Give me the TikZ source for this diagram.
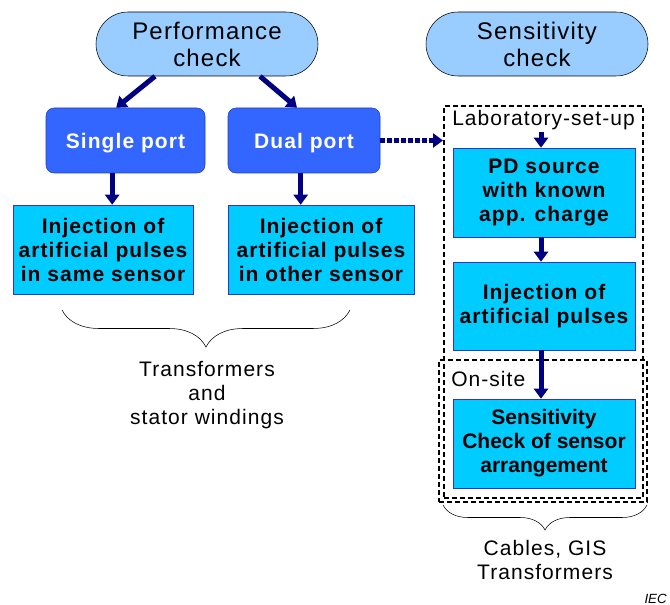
\documentclass[tikz,border=0pt]{standalone}
\usepackage{fontspec}
\setmainfont{Liberation Sans}[LetterSpace=5]
\newfontfamily\plainsans{Liberation Sans}
\usetikzlibrary{arrows.meta,positioning,decorations.pathreplacing}
\definecolor{checkblue}{HTML}{99CCFF}
\definecolor{portblue}{HTML}{3366FF}
\definecolor{portedge}{HTML}{1F3FBF}
\definecolor{injcyan}{HTML}{00CCFF}
\definecolor{injedge}{HTML}{3333CC}
\definecolor{arrnavy}{HTML}{000080}
\tikzset{
  checkbox/.style={draw=black, fill=checkblue, rounded corners=24pt,
    minimum width=166.5pt, minimum height=48pt, align=center, inner sep=0pt,
    font=\fontsize{18}{20.25}\selectfont},
  portbox/.style={draw=portedge, fill=portblue, rounded corners=6pt,
    minimum height=48.75pt, text=white, inner sep=0pt, text depth=0pt,
    font=\fontsize{15.75}{18}\selectfont\bfseries},
  stepbox/.style={draw=injedge, fill=injcyan, minimum height=66.75pt,
    align=center, inner sep=0pt, font=\fontsize{15.75}{18}\selectfont\bfseries},
  setbox/.style={draw=black, dash pattern=on 3.75pt off 2.25pt,
    line width=1.5pt, inner sep=0pt},
  tag/.style={inner sep=0pt, align=center, font=\fontsize{15.75}{18}\selectfont},
  arrw/.style={draw=arrnavy, line width=3.75pt,
    -{Triangle[width=10.5pt,length=7.5pt]}, fill=arrnavy},
  darrw/.style={arrw, dash pattern=on 3.75pt off 1.5pt},
  brc/.style={decorate, decoration={brace, mirror, amplitude=#1}, thin},
}
\begin{document}
\begin{tikzpicture}[x=0.75pt, y=-0.75pt]
  \useasboundingbox (0,0) rectangle (670,605);

  % top level checks
  \node[checkbox] (perf) at (207,44) {Performance\\check};
  \node[checkbox] (sens) at (537,44) {Sensitivity\\check};

  % performance check branch
  \node[portbox, minimum width=119.25pt] (single) at (125.5,140.5) {Single port};
  \node[portbox, minimum width=114pt] (dual) at (304,140.5) {Dual port};
  \node[stepbox, minimum width=135pt] (injsame) at (103,249.5)
    {Injection of\\artificial pulses\\in same sensor};
  \node[stepbox, minimum width=139.5pt] (injother) at (321,249.5)
    {Injection of\\artificial pulses\\in other sensor};

  % sensitivity check branch
  \node[setbox, minimum width=149.25pt, minimum height=294pt] (labbox) at (543.5,302) {};
  \node[setbox, minimum width=156pt, minimum height=106.5pt] (sitebox) at (543,431) {};
  \node[tag, anchor=base west] (labtag) at (452,126) {Laboratory-set-up};
  \node[tag, anchor=base west] (sitetag) at (451,387) {On-site};
  \node[stepbox, minimum width=136.5pt] (pdsrc) at (544,192.5)
    {PD source\\with known\\app. charge};
  \node[stepbox, minimum width=136.5pt, minimum height=66pt] (injart) at (544,306)
    {Injection of\\artificial pulses};
  \node[stepbox, minimum width=136.5pt, font=\fontsize{15.75}{18}\plainsans\bfseries]
    (senschk) at (544,443.5) {Sensitivity\\Check of sensor\\arrangement};
  \coordinate (labin) at (541,132);

  % connectors
  \draw[arrw] ([xshift=-39pt]perf.south) -- ([xshift=-7pt]single.north);
  \draw[arrw] ([xshift=39.75pt]perf.south) -- ([xshift=-5.25pt]dual.north);
  \draw[arrw] ([xshift=-10pt]single.south) -- ([xshift=-10pt]single.south |- injsame.north);
  \draw[arrw] ([xshift=-2.5pt]dual.south) -- ([xshift=-2.5pt]dual.south |- injother.north);
  \draw[darrw] (dual.east) -- (dual.east -| labbox.west);
  \draw[arrnavy, thin] (labbox.north -| labin) -- (labbox.north -| labin |- sens.south);
  \draw[arrw] (labin) -- (labin |- pdsrc.north);
  \draw[arrw] ([xshift=-2.25pt]pdsrc.south) -- ([xshift=-2.25pt]pdsrc.south |- injart.north);
  \draw[arrw] ([xshift=-2.25pt]injart.south) -- ([xshift=-2.25pt]injart.south |- senschk.north);

  % braces and captions
  \draw[brc=27.75pt] (62,310) -- (350,310);
  \draw[brc=18.75pt] (443,505) -- (647,505);
  \node[tag] (lefttxt) at (207,395) {Transformers\\and\\stator windings};
  \node[tag] (righttxt) at (545,560) {Cables, GIS\\Transformers};
  \node[anchor=base east, inner sep=0pt, font=\fontsize{10}{12}\plainsans\itshape]
    (iec) at (667,603) {IEC};
\end{tikzpicture}
\end{document}
